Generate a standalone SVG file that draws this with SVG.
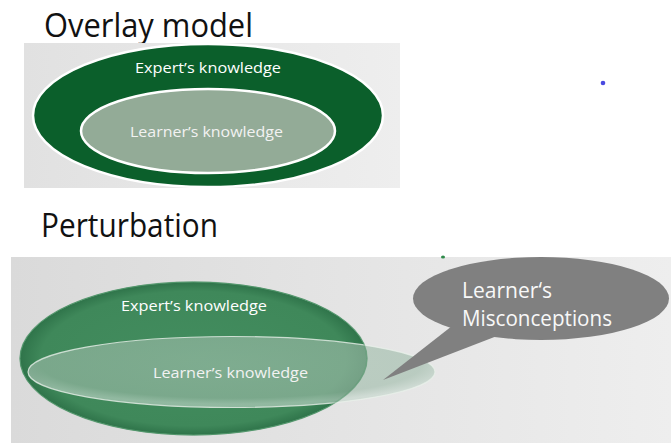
<svg xmlns="http://www.w3.org/2000/svg" width="671" height="446" viewBox="0 0 671 446">
<defs>
<linearGradient id="bgTop" x1="0" y1="0" x2="1" y2="0">
<stop offset="0" stop-color="#e1e1e1"/>
<stop offset="1" stop-color="#eeeeee"/>
</linearGradient>
<linearGradient id="bgBot" x1="0" y1="0" x2="1" y2="0">
<stop offset="0" stop-color="#dadada"/>
<stop offset="0.6" stop-color="#e6e6e6"/>
<stop offset="1" stop-color="#eeeeee"/>
</linearGradient>
<radialGradient id="greenFill" cx="0.5" cy="0.5" r="0.5">
<stop offset="0" stop-color="#438d5f"/>
<stop offset="0.88" stop-color="#3f885a"/>
<stop offset="1" stop-color="#2f744a"/>
</radialGradient>
<radialGradient id="learnFill" cx="0.5" cy="0.4" r="0.55">
<stop offset="0" stop-color="#a3c0ae"/>
<stop offset="0.85" stop-color="#9ebba9"/>
<stop offset="1" stop-color="#c3d6cb"/>
</radialGradient>
<style>
.title{font-family:"Open Sans","Liberation Sans",sans-serif;font-size:33px;fill:#111111}
.lbl{font-family:"Open Sans","Liberation Sans",sans-serif;font-size:15px;fill:#ffffff}
.lbl2{font-family:"Open Sans","Liberation Sans",sans-serif;font-size:15px;fill:#f2f2f2}
.bub{font-family:"Open Sans","Liberation Sans",sans-serif;font-size:21px;fill:#f8f8f8}
</style>
</defs>
<rect width="671" height="446" fill="#ffffff"/>

<g id="overlay-title">
<text class="title" x="44" y="37" textLength="209" lengthAdjust="spacingAndGlyphs">Overlay model</text>
</g>
<g id="overlay-panel">
<rect x="24" y="43" width="376" height="145" fill="url(#bgTop)"/>
</g>
<g id="overlay-expert">
<ellipse cx="208" cy="115.5" rx="175" ry="71.5" fill="#0b5f2b" stroke="#ffffff" stroke-width="2.5"/>
<text class="lbl" x="135" y="73" textLength="146" lengthAdjust="spacingAndGlyphs">Expert’s knowledge</text>
</g>
<g id="overlay-learner">
<ellipse cx="208" cy="131" rx="127" ry="42" fill="#93ab97" stroke="#ffffff" stroke-width="2.5"/>
<text class="lbl2" x="130" y="137" textLength="153" lengthAdjust="spacingAndGlyphs">Learner’s knowledge</text>
</g>
<g id="dot">
<circle cx="603" cy="83" r="2.3" fill="#4a4ae0"/>
</g>

<g id="perturbation-title">
<text class="title" x="41" y="237" textLength="177" lengthAdjust="spacingAndGlyphs">Perturbation</text>
</g>
<g id="perturbation-panel">
<rect x="11" y="257" width="660" height="186" fill="url(#bgBot)"/>
<ellipse cx="443" cy="257" rx="2" ry="1.5" fill="#2e8a4a"/>
</g>
<g id="pert-expert">
<ellipse cx="193.5" cy="358.5" rx="173.5" ry="76.5" fill="url(#greenFill)" stroke="#5a9e74" stroke-width="1"/>
<text class="lbl" x="121" y="311" textLength="146" lengthAdjust="spacingAndGlyphs">Expert’s knowledge</text>
</g>
<g id="pert-learner">
<ellipse cx="231.5" cy="372" rx="203.5" ry="35.5" fill="url(#learnFill)" fill-opacity="0.62" stroke="#e8f0ea" stroke-opacity="0.8" stroke-width="1.2"/>
<ellipse cx="193.5" cy="358.5" rx="173.5" ry="76.5" fill="none" stroke="#3f885a" stroke-opacity="0.35" stroke-width="1.5"/>
<text class="lbl2" x="153" y="378" textLength="155" lengthAdjust="spacingAndGlyphs">Learner’s knowledge</text>
</g>
<g id="misconceptions">
<path d="M452,326 L383,380 L497,336 Z" fill="#808080"/>
<ellipse cx="541" cy="298.5" rx="128" ry="41.5" fill="#808080"/>
<text class="bub" x="462" y="298" textLength="90" lengthAdjust="spacingAndGlyphs">Learner‘s</text>
<text class="bub" x="462" y="326" textLength="150" lengthAdjust="spacingAndGlyphs">Misconceptions</text>
</g>
<g id="connectors"></g>
</svg>
